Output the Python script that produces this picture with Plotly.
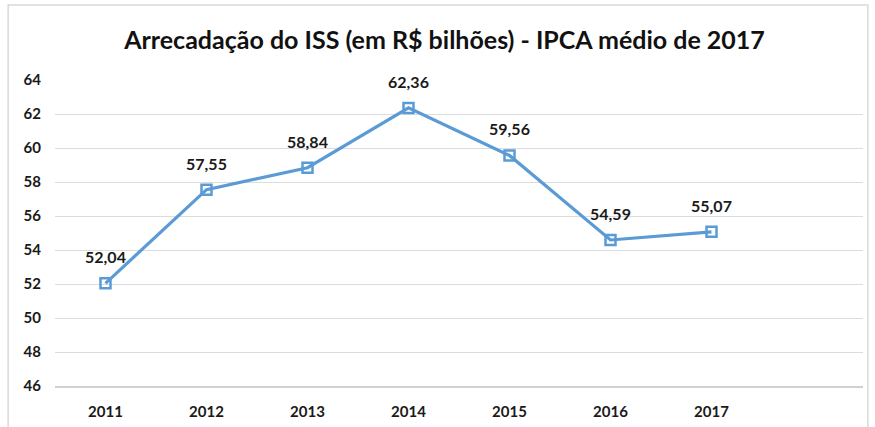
import plotly.graph_objects as go

years = ["2011", "2012", "2013", "2014", "2015", "2016", "2017"]
values = [52.04, 57.55, 58.84, 62.36, 59.56, 54.59, 55.07]
labels = [f"{v:.2f}".replace(".", ",") for v in values]
y_ticks = [46, 48, 50, 52, 54, 56, 58, 60, 62, 64]

color = "#5B9BD5"
font_family = "Lato, Open Sans, sans-serif"

fig = go.Figure()
fig.add_trace(go.Scatter(
    x=years, y=values,
    mode="lines+markers",
    line=dict(color=color, width=3.2),
    marker=dict(symbol="square-open", size=10, color=color, line=dict(width=2.5, color=color)),
    hoverinfo="skip",
))
# labels (transparent marker only used to space the text above the point)
fig.add_trace(go.Scatter(
    x=years, y=values,
    mode="markers+text",
    marker=dict(size=24, color="rgba(0,0,0,0)"),
    text=labels,
    textposition="top center",
    textfont=dict(family=font_family, size=16, color="#1a1a1a", weight="bold"),
    cliponaxis=False,
    hoverinfo="skip",
))

fig.update_layout(
    width=875, height=427,
    paper_bgcolor="white", plot_bgcolor="white",
    margin=dict(l=55, r=12, t=80, b=41),
    showlegend=False,
    title=dict(
        text="Arrecadação do ISS (em R$ bilhões) - IPCA médio de 2017",
        x=0.508, xanchor="center", y=0.905, yanchor="middle",
        font=dict(family=font_family, size=25, color="#111111", weight="bold"),
    ),
    xaxis=dict(
        type="category",
        range=[-0.5, 7.5],
        automargin=False,
        showgrid=False,
        showline=True, linecolor="#d0d0d0", linewidth=1.5,
        ticks="", ticklabelstandoff=11,
        tickfont=dict(family=font_family, size=15, color="#1a1a1a", weight="bold"),
        fixedrange=True,
    ),
    yaxis=dict(
        range=[46, 64],
        tickvals=y_ticks,
        automargin=False,
        showgrid=True, gridcolor="#dcdcdc", gridwidth=1,
        zeroline=False, showline=False,
        ticks="", ticklabelstandoff=13,
        tickfont=dict(family=font_family, size=15, color="#1a1a1a", weight="bold"),
        fixedrange=True,
    ),
)

fig.add_shape(type="rect", xref="paper", yref="paper",
              x0=-0.058, x1=1.006, y0=-0.2, y1=1.245,
              line=dict(color="#d9d9d9", width=1.5), fillcolor="rgba(0,0,0,0)", layer="below")

fig.write_html("out.html", config={"displayModeBar": False},
               post_script="document.body.style.margin='0';")
